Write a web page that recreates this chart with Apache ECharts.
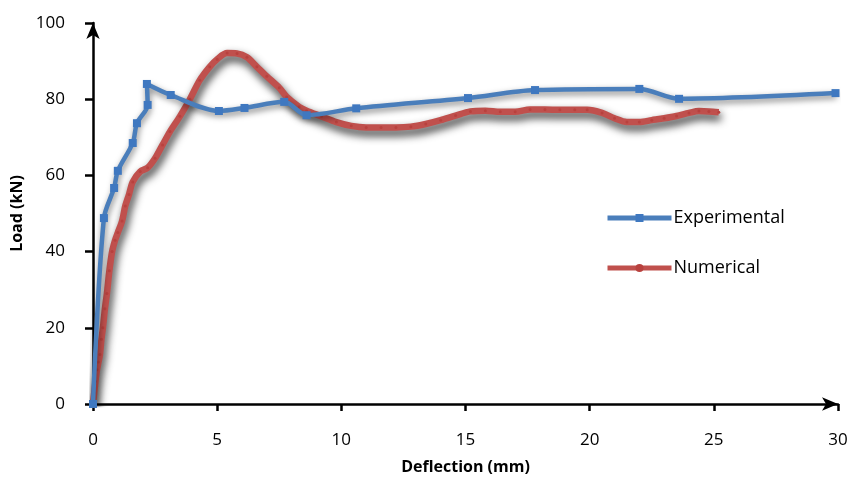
<!DOCTYPE html>
<html>
<head>
<meta charset="utf-8">
<script src="https://cdn.jsdelivr.net/npm/echarts@6/dist/echarts.min.js"></script>
<style>html,body{margin:0;padding:0;background:#fff}#c{width:855px;height:481px}</style>
</head>
<body>
<div id="c"></div>
<script>
var xTicks = [0, 5, 10, 15, 20, 25, 30];
var yTicks = [0, 20, 40, 60, 80, 100];
var expX = [0, 0.44, 0.85, 1.0, 1.6, 1.77, 2.2, 2.17, 3.13, 5.07, 6.1, 7.7, 8.6, 10.6, 15.1, 17.8, 22.0, 23.6, 29.9];
var expY = [0, 48.8, 56.7, 61.2, 68.5, 73.7, 78.5, 84, 81.1, 76.9, 77.7, 79.3, 75.8, 77.6, 80.3, 82.4, 82.7, 80.1, 81.6];
var numX = [0, 0.05, 0.1, 0.16, 0.22, 0.28, 0.34, 0.4, 0.48, 0.56, 0.66, 0.77, 0.89, 1.0, 1.17, 1.3, 1.45, 1.6, 1.9, 2.2, 2.5, 2.8, 3.1, 3.5, 3.9, 4.3, 4.7, 5.0, 5.4, 5.8, 6.2, 6.6, 7.0, 7.5, 7.8, 8.3, 8.6, 9.2, 9.8, 10.4, 11.0, 11.6, 12.2, 12.8, 13.4, 14.0, 14.6, 15.2, 15.8, 16.4, 17.0, 17.6, 18.2, 18.8, 19.4, 19.9, 20.5, 21.0, 21.5, 22.0, 22.5, 23.0, 23.5, 24.0, 24.4, 24.8, 25.2];
var numY = [0, 3, 6, 9, 11, 13, 17, 20, 25, 29, 35, 40, 43, 45, 48, 52, 55, 58.3, 61, 62, 64.5, 68, 71.5, 75.5, 80, 85, 88.5, 90.5, 92.1, 92, 91, 88.5, 86, 83, 80.6, 78, 77, 75.5, 74, 73, 72.6, 72.6, 72.6, 72.8, 73.5, 74.5, 75.7, 76.8, 77, 76.7, 76.7, 77.3, 77.3, 77.2, 77.2, 77.2, 76.4, 75, 74, 74, 74.5, 75, 75.6, 76.4, 76.9, 76.8, 76.6];

function zip(xs, ys) { return xs.map(function (x, i) { return [x, ys[i]]; }); }

var font = 'Open Sans';
var chart = echarts.init(document.getElementById('c'));
chart.setOption({
  animation: false,
  backgroundColor: '#fff',
  grid: { left: 93, right: 17, top: 23, bottom: 77, containLabel: false },
  legend: {
    orient: 'vertical', left: 600, top: 204, itemWidth: 64, itemHeight: 10, itemGap: 32,
    lineStyle: { width: 5, shadowBlur: 0, shadowColor: 'transparent' },
    textStyle: { fontFamily: font, fontSize: 18, color: '#000', padding: [0, 0, 0, -3] },
    data: [
      { name: 'Experimental' },
      { name: 'Numerical' }
    ]
  },
  xAxis: {
    type: 'value', min: 0, max: 30, interval: 5,
    name: 'Deflection (mm)', nameLocation: 'middle', nameGap: 55,
    nameTextStyle: { fontFamily: font, fontSize: 16, fontWeight: 'bold', color: '#000' },
    axisLine: { show: true, symbol: ['none', 'arrow'], symbolSize: [10, 16], lineStyle: { color: '#000', width: 2.5 } },
    axisTick: { show: true, inside: false, length: 7, lineStyle: { color: '#000', width: 2.5 } },
    axisLabel: { margin: 28, fontFamily: font, fontSize: 17, color: '#000',
      formatter: function (v) { return xTicks.indexOf(v) >= 0 ? String(v) : ''; } },
    splitLine: { show: false }
  },
  yAxis: {
    type: 'value', min: 0, max: 100, interval: 20,
    name: 'Load (kN)', nameLocation: 'middle', nameGap: 68, nameRotate: 90,
    nameTextStyle: { fontFamily: font, fontSize: 16, fontWeight: 'bold', color: '#000' },
    axisLine: { show: true, symbol: ['none', 'arrow'], symbolSize: [10, 16], lineStyle: { color: '#000', width: 2.5 } },
    axisTick: { show: true, inside: false, length: 8, lineStyle: { color: '#000', width: 2.5 } },
    axisLabel: { margin: 28, fontFamily: font, fontSize: 17, color: '#000',
      formatter: function (v) { return yTicks.indexOf(v) >= 0 ? String(v) : ''; } },
    splitLine: { show: false }
  },
  series: [
    {
      name: 'Numerical', type: 'line', smooth: 0.3, z: 2,
      data: zip(numX, numY),
      symbol: 'circle', symbolSize: 3, showSymbol: true,
      itemStyle: { color: '#b8413e' },
      lineStyle: { color: '#c0504d', width: 6.5, shadowColor: 'rgba(0,0,0,0.85)', shadowBlur: 8, shadowOffsetX: 2, shadowOffsetY: 5 }
    },
    {
      name: 'Experimental', type: 'line', smooth: 0.3, z: 3,
      data: zip(expX, expY),
      symbol: 'rect', symbolSize: 8, showSymbol: true,
      itemStyle: { color: '#3f78c0' },
      lineStyle: { color: '#4a7ebb', width: 4.5, shadowColor: 'rgba(0,0,0,0.5)', shadowBlur: 6, shadowOffsetX: 1, shadowOffsetY: 3 }
    }
  ]
});
</script>
</body>
</html>
